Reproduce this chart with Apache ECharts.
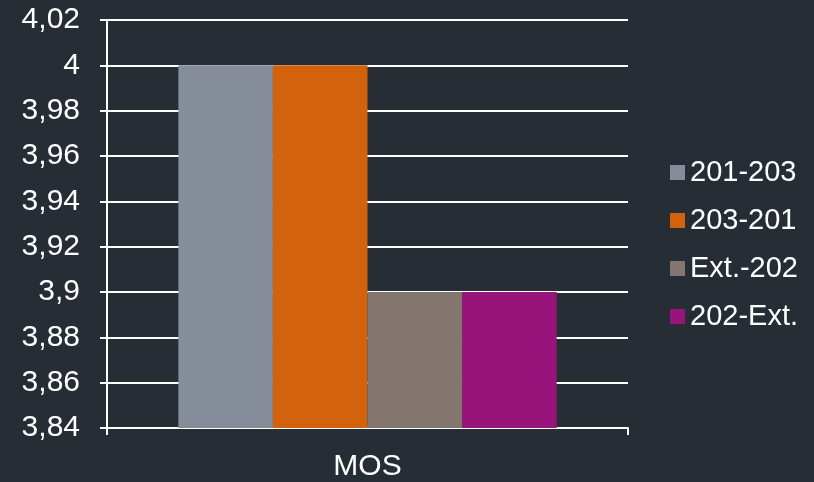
<!DOCTYPE html>
<html><head><meta charset="utf-8">
<script src="https://cdn.jsdelivr.net/npm/echarts@6/dist/echarts.min.js"></script>
<style>html,body{margin:0;padding:0;background:#262d35;}#c{width:814px;height:482px;}</style>
</head><body><div id="c"></div>
<script>
const categories = ['MOS'];
const seriesNames = ['201-203', '203-201', 'Ext.-202', '202-Ext.'];
const seriesValues = [[4.0], [4.0], [3.9], [3.9]];
const colors = ['#858d9a', '#d2620c', '#83766f', '#98147a'];
const yMin = 3.84, yMax = 4.02, yStep = 0.02;

const FONT = 'Liberation Sans, Arial, sans-serif';
const chart = echarts.init(document.getElementById('c'));
chart.setOption({
  backgroundColor: '#262d35',
  animation: false,
  grid: {left: 107, right: 186, top: 20, bottom: 53, containLabel: false},
  legend: {
    orient: 'vertical', left: 665, top: 153,
    itemWidth: 15, itemHeight: 15, itemGap: 19,
    icon: 'rect',
    textStyle: {color: '#ffffff', fontSize: 29, fontFamily: FONT, lineHeight: 29},
    data: seriesNames
  },
  xAxis: {
    type: 'category', data: categories,
    axisLine: {lineStyle: {color: '#ffffff', width: 2}},
    axisTick: {show: true, length: 7, lineStyle: {color: '#ffffff', width: 2}},
    axisLabel: {color: '#ffffff', fontSize: 30, fontFamily: FONT, margin: 24}
  },
  yAxis: {
    type: 'value', min: yMin, max: yMax, interval: yStep,
    axisLine: {show: true, lineStyle: {color: '#ffffff', width: 2}},
    axisTick: {show: true, length: 7, lineStyle: {color: '#ffffff', width: 2}},
    splitLine: {show: true, lineStyle: {color: '#ffffff', width: 2}},
    axisLabel: {color: '#ffffff', fontSize: 30, fontFamily: FONT, margin: 27,
      formatter: v => String(+v.toFixed(2)).replace('.', ',')}
  },
  series: seriesNames.map((n, i) => ({
    name: n, type: 'bar', data: seriesValues[i],
    itemStyle: {color: colors[i]},
    barGap: '0%', barCategoryGap: '27.4%'
  }))
});
</script></body></html>
